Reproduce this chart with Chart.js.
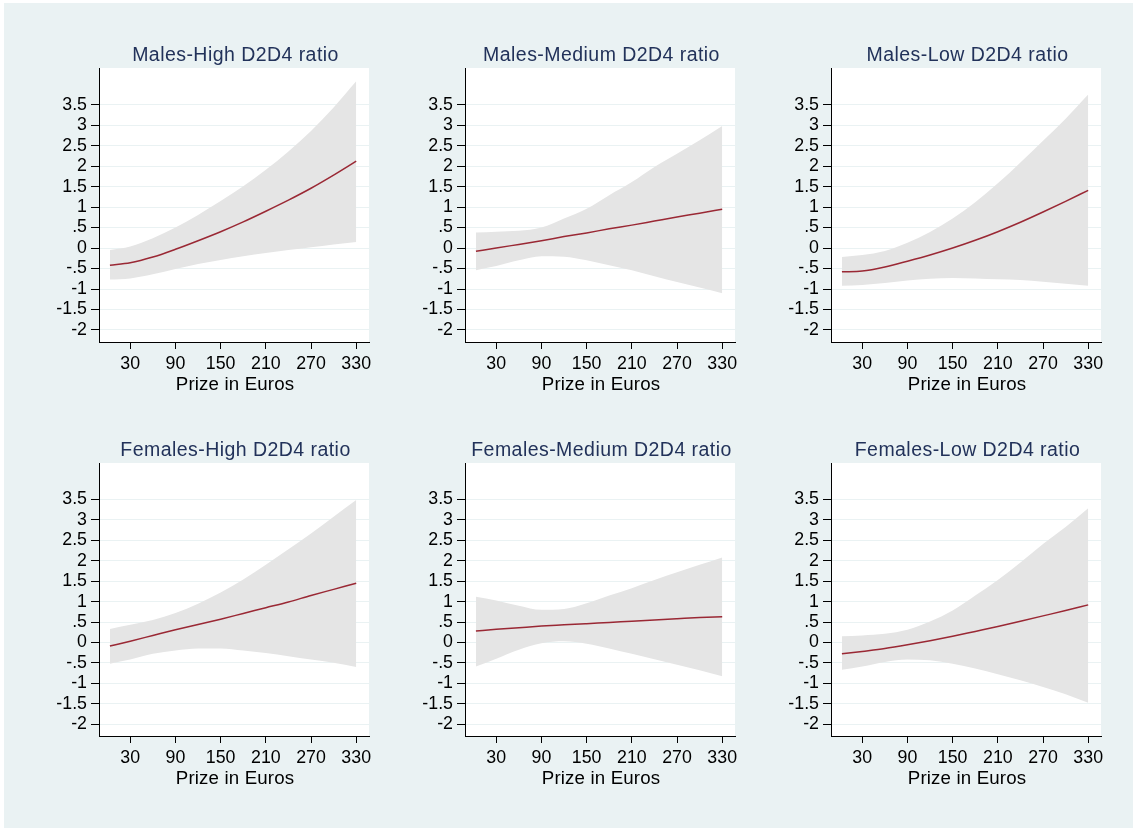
<!DOCTYPE html>
<html>
<head>
<meta charset="utf-8">
<script src="https://cdn.jsdelivr.net/npm/chart.js@4"></script>
<style>
  html, body { margin: 0; padding: 0; background: #ffffff; }
  body { width: 1134px; height: 828px; position: relative; overflow: hidden; }
  #frame { position: absolute; left: 4px; top: 3px; width: 1129px; height: 825px; background: #eaf2f3; }
  canvas { position: absolute; }
</style>
</head>
<body>
<div id="frame"></div>
<script>
// ---- data ----
const prize = [3, 30, 60, 90, 120, 150, 180, 210, 240, 270, 300, 330];

const titles = [
  "Males-High D2D4 ratio", "Males-Medium D2D4 ratio", "Males-Low D2D4 ratio",
  "Females-High D2D4 ratio", "Females-Medium D2D4 ratio", "Females-Low D2D4 ratio"
];

const maleHighFit  = [-0.42, -0.36, -0.22, -0.03, 0.18, 0.40, 0.64, 0.90, 1.17, 1.46, 1.78, 2.12];
const maleHighLo   = [-0.77, -0.74, -0.64, -0.51, -0.39, -0.29, -0.20, -0.12, -0.05, 0.02, 0.09, 0.15];
const maleHighHi   = [-0.05, 0.04, 0.24, 0.50, 0.81, 1.15, 1.51, 1.91, 2.36, 2.86, 3.43, 4.07];

const maleMedFit   = [-0.08, 0.00, 0.09, 0.18, 0.28, 0.37, 0.47, 0.56, 0.66, 0.76, 0.85, 0.95];
const maleMedLo    = [-0.54, -0.44, -0.30, -0.20, -0.21, -0.30, -0.42, -0.54, -0.69, -0.83, -0.96, -1.10];
const maleMedHi    = [0.38, 0.40, 0.42, 0.50, 0.72, 0.96, 1.29, 1.61, 1.98, 2.30, 2.63, 2.98];

const maleLowFit   = [-0.58, -0.56, -0.46, -0.32, -0.17, 0.00, 0.19, 0.40, 0.63, 0.88, 1.14, 1.41];
const maleLowLo    = [-0.92, -0.90, -0.85, -0.79, -0.75, -0.73, -0.74, -0.76, -0.78, -0.82, -0.87, -0.92];
const maleLowHi    = [-0.22, -0.17, -0.07, 0.13, 0.39, 0.72, 1.12, 1.58, 2.09, 2.62, 3.16, 3.75];

const femHighFit   = [-0.09, 0.03, 0.17, 0.31, 0.44, 0.57, 0.71, 0.85, 0.99, 1.15, 1.30, 1.45];
const femHighLo    = [-0.52, -0.42, -0.28, -0.20, -0.15, -0.15, -0.20, -0.26, -0.34, -0.42, -0.50, -0.60];
const femHighHi    = [0.33, 0.43, 0.55, 0.72, 0.95, 1.22, 1.54, 1.90, 2.28, 2.67, 3.08, 3.49];

const femMedFit    = [0.28, 0.32, 0.36, 0.40, 0.43, 0.46, 0.49, 0.52, 0.55, 0.58, 0.61, 0.63];
const femMedLo     = [-0.59, -0.40, -0.18, -0.02, 0.03, -0.03, -0.15, -0.28, -0.41, -0.55, -0.68, -0.83];
const femMedHi     = [1.12, 1.03, 0.90, 0.80, 0.82, 0.96, 1.15, 1.33, 1.53, 1.72, 1.90, 2.08];

const femLowFit    = [-0.28, -0.22, -0.15, -0.06, 0.04, 0.15, 0.27, 0.39, 0.52, 0.65, 0.78, 0.92];
const femLowLo     = [-0.67, -0.59, -0.48, -0.42, -0.44, -0.52, -0.64, -0.78, -0.93, -1.09, -1.27, -1.48];
const femLowHi     = [0.15, 0.17, 0.21, 0.31, 0.51, 0.78, 1.15, 1.53, 1.96, 2.41, 2.83, 3.29];

const yTickValues = [-2, -1.5, -1, -0.5, 0, 0.5, 1, 1.5, 2, 2.5, 3, 3.5];
const yTickLabels = ["-2", "-1.5", "-1", "-.5", "0", ".5", "1", "1.5", "2", "2.5", "3", "3.5"];
const xTickValues = [30, 90, 150, 210, 270, 330];
const xTickLabels = ["30", "90", "150", "210", "270", "330"];
const xAxisTitle = "Prize in Euros";

const panels = [
  { fit: maleHighFit, lo: maleHighLo, hi: maleHighHi },
  { fit: maleMedFit,  lo: maleMedLo,  hi: maleMedHi },
  { fit: maleLowFit,  lo: maleLowLo,  hi: maleLowHi },
  { fit: femHighFit,  lo: femHighLo,  hi: femHighHi },
  { fit: femMedFit,   lo: femMedLo,   hi: femMedHi },
  { fit: femLowFit,   lo: femLowLo,   hi: femLowHi }
];

// ---- layout / style ----
const FONT = "'Liberation Sans', Arial, Helvetica, sans-serif";
const plotLefts = [99, 465, 831];
const plotTops = [68, 463];
const plotHeights = [274, 273];
const plotW = 270;
const PAD_L = 80, PAD_T = 45, PAD_R = 10, PAD_B = 60;

const panelPlugin = {
  id: 'panelDeco',
  beforeDraw(chart) {
    const { ctx, chartArea: a } = chart;
    ctx.save();
    ctx.fillStyle = '#ffffff';
    ctx.fillRect(a.left, a.top, a.right - a.left, a.bottom - a.top);
    ctx.restore();
  },
  afterDraw(chart) {
    const { ctx, chartArea: a } = chart;
    const t = chart.options.plugins.panelDeco;
    ctx.save();
    ctx.textAlign = 'center';
    ctx.textBaseline = 'alphabetic';
    ctx.fillStyle = '#22325a';
    ctx.font = '19.5px ' + FONT;
    if ('letterSpacing' in ctx) ctx.letterSpacing = '0.45px';
    ctx.fillText(t.title, (a.left + a.right) / 2 + 1.5, a.top - 7.5);
    ctx.fillStyle = '#000000';
    ctx.font = '18.7px ' + FONT;
    if ('letterSpacing' in ctx) ctx.letterSpacing = '0.15px';
    ctx.fillText(xAxisTitle, (a.left + a.right) / 2 + 1, a.bottom + 48);
    ctx.restore();
  }
};

panels.forEach((p, i) => {
  const col = i % 3, row = Math.floor(i / 3);
  const cv = document.createElement('canvas');
  const w = PAD_L + plotW + PAD_R;
  const h = PAD_T + plotHeights[row] + PAD_B;
  cv.width = w; cv.height = h;
  cv.style.width = w + 'px'; cv.style.height = h + 'px';
  cv.style.left = (plotLefts[col] - PAD_L) + 'px';
  cv.style.top = (plotTops[row] - PAD_T) + 'px';
  document.body.appendChild(cv);

  const toPts = arr => prize.map((x, k) => ({ x: x, y: arr[k] }));

  new Chart(cv.getContext('2d'), {
    type: 'line',
    data: {
      datasets: [
        { data: toPts(p.fit), borderColor: '#9a2834', borderWidth: 1.5, pointRadius: 0,
          fill: false, cubicInterpolationMode: 'monotone' },
        { data: toPts(p.hi), borderWidth: 0, borderColor: 'rgba(0,0,0,0)', pointRadius: 0,
          fill: '+1', backgroundColor: '#e5e5e5', cubicInterpolationMode: 'monotone' },
        { data: toPts(p.lo), borderWidth: 0, borderColor: 'rgba(0,0,0,0)', pointRadius: 0,
          fill: false, cubicInterpolationMode: 'monotone' }
      ]
    },
    options: {
      responsive: false,
      animation: false,
      devicePixelRatio: 1,
      layout: { padding: { left: 0, top: PAD_T, right: PAD_R, bottom: 0 } },
      plugins: {
        legend: { display: false },
        title: { display: false },
        tooltip: { enabled: false },
        panelDeco: { title: titles[i] }
      },
      scales: {
        x: {
          type: 'linear',
          min: -11.5, max: 347,
          afterBuildTicks: s => { s.ticks = xTickValues.map(v => ({ value: v })); },
          afterFit: s => { s.height = PAD_B; },
          ticks: {
            autoSkip: false, maxRotation: 0, padding: 4,
            color: '#000', font: { family: FONT, size: 17.8 },
            callback: (v, idx) => xTickLabels[idx]
          },
          grid: { drawOnChartArea: false, drawTicks: true, tickLength: 7, tickColor: '#000', tickWidth: 1 },
          border: { display: true, color: '#000', width: 1 }
        },
        y: {
          type: 'linear',
          min: -2.293, max: 4.396,
          afterBuildTicks: s => { s.ticks = yTickValues.map(v => ({ value: v })); },
          afterFit: s => { s.width = PAD_L; },
          ticks: {
            autoSkip: false, padding: 4,
            color: '#000', font: { family: FONT, size: 17.8 },
            callback: (v, idx) => yTickLabels[idx]
          },
          grid: { color: '#eaf2f3', lineWidth: 1, drawTicks: true, tickLength: 8, tickColor: '#000', tickWidth: 1 },
          border: { display: true, color: '#000', width: 1 }
        }
      }
    },
    plugins: [panelPlugin]
  });
});
</script>
</body>
</html>
